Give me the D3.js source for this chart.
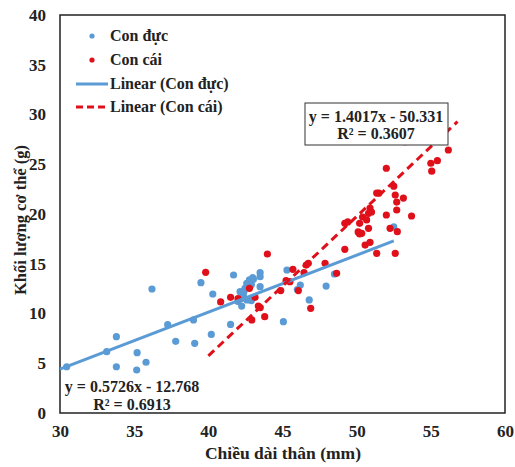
<!DOCTYPE html>
<html>
<head>
<meta charset="utf-8">
<script src="https://d3js.org/d3.v7.min.js"></script>
<style>
  body { margin: 0; background: #fff; }
  text { font-family: "Liberation Serif", "Times New Roman", serif; font-weight: bold; fill: #222; }
</style>
</head>
<body>
<div id="chart"></div>
<script>
// data: [length (mm), mass (g)]
var maleData = [
  [30.45,4.65],[33.15,6.16],[33.8,7.67],[33.8,4.65],[35.2,6.06],[35.17,4.32],[35.8,5.1],
  [36.2,12.46],[37.26,8.88],[37.8,7.2],[39.08,7.0],[39.0,9.35],[39.5,13.1],[40.3,11.96],
  [40.2,7.9],[41.5,8.9],[41.7,13.87],[42.0,11.2],[42.14,12.19],[42.25,11.5],[42.36,11.86],
  [42.47,12.53],[42.59,13.03],[42.77,13.37],[43.04,13.43],[43.49,14.1],[43.49,13.7],
  [43.49,12.7],[42.25,10.75],[42.6,11.36],[42.9,12.9],[43.0,13.6],[45.3,14.37],[45.06,9.18],
  [46.0,12.4],[46.2,12.86],[46.8,11.36],[47.94,12.76],[48.5,13.97],[52.5,18.7],[42.4,12.2],[42.9,11.3]
];
var femaleData = [
  [39.82,14.14],[40.83,11.16],[41.5,11.63],[42.0,11.5],[42.77,12.53],[42.93,9.35],[43.15,11.63],
  [43.37,10.75],[43.5,10.6],[43.8,9.68],[43.98,15.98],[44.88,12.3],[45.24,13.3],[45.5,13.2],
  [45.7,14.44],[46.07,12.3],[46.45,14.1],[46.6,14.87],[46.74,15.04],[46.9,10.52],[47.87,15.04],
  [48.65,14.04],[49.2,16.45],[49.2,19.06],[49.4,19.2],[50.1,18.2],[50.2,18.0],[50.2,19.06],
  [50.34,18.06],[50.4,19.7],[50.57,16.88],[50.67,19.4],[50.8,18.56],[50.8,20.07],[50.9,17.15],
  [50.9,20.6],[51.0,20.2],[51.35,16.05],[51.35,22.1],[51.5,22.1],[52.0,19.9],[52.0,24.6],
  [52.25,18.56],[52.5,22.8],[52.6,16.05],[52.6,21.9],[52.7,21.2],[52.7,20.4],[52.74,18.22],
  [53.15,21.6],[53.26,27.27],[53.7,19.8],[55.0,25.1],[55.06,24.3],[55.44,25.36],[56.18,26.43]
];
// trend lines: slope, intercept, x range
var maleFit = { a: 0.5726, b: -12.768, x0: 30, x1: 52.5 };
var femaleFit = { a: 1.4017, b: -50.331, x0: 40, x1: 56.8 };
var xTicks = [30, 35, 40, 45, 50, 55, 60];
var yTicks = [0, 5, 10, 15, 20, 25, 30, 35, 40];
var legendLabels = ["Con đực", "Con cái", "Linear (Con đực)", "Linear (Con cái)"];

var W = 515, H = 467;
var plotL = 60, plotR = 505, plotT = 15, plotB = 413;
var blue = "#5b9bd5", red = "#e0101a";

var svg = d3.select("#chart").append("svg")
    .attr("width", W).attr("height", H);

var x = d3.scaleLinear().domain([30, 60]).range([plotL, plotR]);
var y = d3.scaleLinear().domain([0, 40]).range([plotB, plotT]);

// plot frame
svg.append("rect")
    .attr("x", plotL).attr("y", plotT)
    .attr("width", plotR - plotL).attr("height", plotB - plotT)
    .attr("fill", "none").attr("stroke", "#222").attr("stroke-width", 1.5);

svg.append("g")
    .attr("transform", "translate(0," + plotB + ")")
    .call(d3.axisBottom(x).tickValues(xTicks).tickSize(0).tickPadding(12))
    .call(g => g.select(".domain").remove())
    .selectAll("text").style("font-size", "17px").attr("fill", "#222");

svg.append("g")
    .attr("transform", "translate(" + plotL + ",0)")
    .call(d3.axisLeft(y).tickValues(yTicks).tickSize(0).tickPadding(14))
    .call(g => g.select(".domain").remove())
    .selectAll("text").style("font-size", "17px").attr("fill", "#222");

// axis titles
svg.append("text")
    .attr("x", 283).attr("y", 459)
    .attr("text-anchor", "middle").style("font-size", "17.5px")
    .text("Chiều dài thân (mm)");

svg.append("text")
    .attr("transform", "translate(26,220) rotate(-90)")
    .attr("text-anchor", "middle").style("font-size", "16.5px")
    .text("Khối lượng cơ thể (g)");

// points
svg.selectAll(".male").data(maleData).enter().append("circle")
    .attr("class", "male")
    .attr("cx", d => x(d[0])).attr("cy", d => y(d[1]))
    .attr("r", 3.6).attr("fill", blue);

svg.selectAll(".female").data(femaleData).enter().append("circle")
    .attr("class", "female")
    .attr("cx", d => x(d[0])).attr("cy", d => y(d[1]))
    .attr("r", 3.6).attr("fill", red);

// trend lines
function fitLine(f) {
  return [[f.x0, f.a * f.x0 + f.b], [f.x1, f.a * f.x1 + f.b]];
}
var line = d3.line().x(d => x(d[0])).y(d => y(d[1]));

svg.append("path").datum(fitLine(maleFit))
    .attr("d", line).attr("stroke", blue).attr("stroke-width", 3).attr("fill", "none");

svg.append("path").datum(fitLine(femaleFit))
    .attr("d", line).attr("stroke", red).attr("stroke-width", 3)
    .attr("stroke-dasharray", "8,5").attr("fill", "none");

// legend
var leg = svg.append("g");
var legY = [36, 60, 84, 107];
leg.append("circle").attr("cx", 92).attr("cy", legY[0]).attr("r", 2.6).attr("fill", blue);
leg.append("circle").attr("cx", 92).attr("cy", legY[1]).attr("r", 2.6).attr("fill", red);
leg.append("line").attr("x1", 76).attr("x2", 108).attr("y1", legY[2]).attr("y2", legY[2])
    .attr("stroke", blue).attr("stroke-width", 3);
leg.append("line").attr("x1", 76).attr("x2", 108).attr("y1", legY[3]).attr("y2", legY[3])
    .attr("stroke", red).attr("stroke-width", 3).attr("stroke-dasharray", "7,4");
legendLabels.forEach(function (t, i) {
  leg.append("text").attr("x", 110).attr("y", legY[i] + 5)
      .style("font-size", "16px").text(t);
});

// equation labels
svg.append("text").attr("x", 132).attr("y", 392)
    .attr("text-anchor", "middle").style("font-size", "16px")
    .text("y = 0.5726x - 12.768");
svg.append("text").attr("x", 132).attr("y", 410)
    .attr("text-anchor", "middle").style("font-size", "16px")
    .text("R² = 0.6913");

svg.append("rect").attr("x", 305).attr("y", 103).attr("width", 143).attr("height", 42)
    .attr("fill", "#fff").attr("stroke", "#333").attr("stroke-width", 1);
svg.append("text").attr("x", 376).attr("y", 122)
    .attr("text-anchor", "middle").style("font-size", "16px")
    .text("y = 1.4017x - 50.331");
svg.append("text").attr("x", 376).attr("y", 139)
    .attr("text-anchor", "middle").style("font-size", "16px")
    .text("R² = 0.3607");
</script>
</body>
</html>
